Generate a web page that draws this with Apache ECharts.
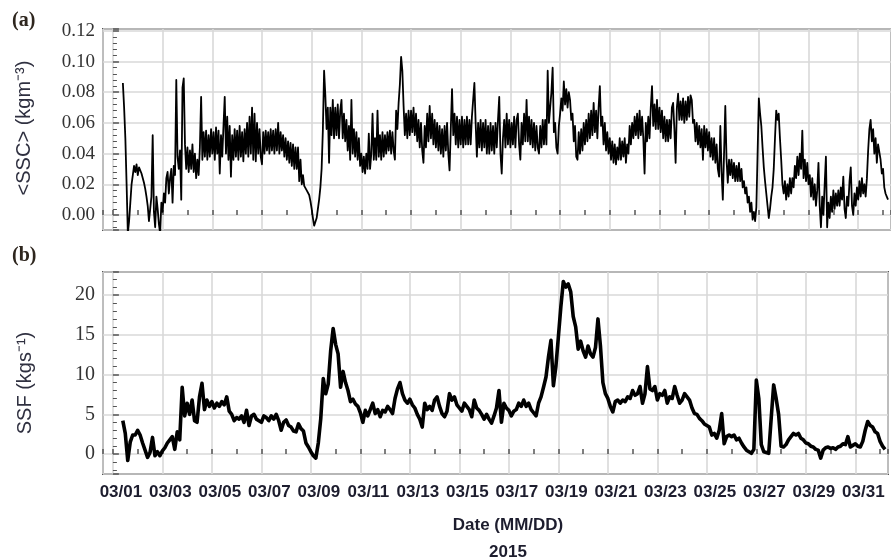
<!DOCTYPE html>
<html>
<head>
<meta charset="utf-8">
<script src="https://cdn.jsdelivr.net/npm/echarts@6/dist/echarts.min.js"></script>
<style>
  html, body { margin: 0; padding: 0; background: #fff; }
  #chart { width: 891px; height: 560px; }
</style>
</head>
<body>
<div id="chart"></div>
<script>
// Times are days after 03/01 00:00. Both records start at the same instant.
const sscStart = 0.4;
const sscStep = 0.05;
const ssfStart = 0.4;
const ssfStep = 0.1;

// Date tick labels, one every second day (x = 0, 2, 4, ...)
const dateLabels = ['03/01', '03/03', '03/05', '03/07', '03/09', '03/11', '03/13', '03/15',
                    '03/17', '03/19', '03/21', '03/23', '03/25', '03/27', '03/29', '03/31'];

// Value-axis tick labels
const sscTicks = [0.00, 0.02, 0.04, 0.06, 0.08, 0.10, 0.12];
const ssfTicks = [0, 5, 10, 15, 20];

// (a) depth-averaged suspended sediment concentration <SSC>, kg m^-3 (one row per day)
const ssc = [
  0.086, 0.070, 0.050, 0.020, -0.012, -0.004, 0.008, 0.020, 0.026, 0.032, 0.028, 0.033, 0.026, 0.031, 0.032, 0.027, 0.026, 0.021, 0.017, 0.012,
  0.006, -0.004, 0.004, 0.012, 0.052, 0.002, -0.008, 0.012, 0.004, -0.006, -0.012, 0.008, 0.002, 0.014, 0.008, 0.024, 0.028, 0.014, 0.024, 0.030,
  0.008, 0.032, 0.026, 0.088, 0.038, 0.030, 0.042, 0.010, 0.083, 0.089, 0.046, 0.030, 0.044, 0.028, 0.042, 0.030, 0.046, 0.028, 0.040, 0.024,
  0.036, 0.026, 0.044, 0.077, 0.036, 0.054, 0.038, 0.055, 0.036, 0.052, 0.038, 0.056, 0.040, 0.054, 0.036, 0.057, 0.040, 0.055, 0.027, 0.052,
  0.038, 0.058, 0.077, 0.040, 0.064, 0.036, 0.058, 0.025, 0.052, 0.036, 0.056, 0.038, 0.055, 0.036, 0.058, 0.038, 0.054, 0.035, 0.056, 0.040,
  0.060, 0.038, 0.064, 0.040, 0.070, 0.036, 0.066, 0.035, 0.060, 0.040, 0.056, 0.038, 0.033, 0.054, 0.040, 0.055, 0.042, 0.054, 0.040, 0.056,
  0.042, 0.055, 0.040, 0.056, 0.042, 0.060, 0.040, 0.054, 0.042, 0.052, 0.038, 0.050, 0.036, 0.048, 0.034, 0.047, 0.032, 0.046, 0.030, 0.044,
  0.030, 0.044, 0.022, 0.036, 0.020, 0.026, 0.019, 0.018, 0.016, 0.015, 0.013, 0.009, 0.004, -0.002, -0.007, -0.006, -0.002, 0.004, 0.010, 0.018,
  0.030, 0.055, 0.094, 0.078, 0.056, 0.070, 0.034, 0.070, 0.052, 0.075, 0.050, 0.070, 0.052, 0.072, 0.050, 0.068, 0.075, 0.050, 0.066, 0.048,
  0.062, 0.042, 0.058, 0.036, 0.075, 0.040, 0.056, 0.038, 0.054, 0.036, 0.050, 0.032, 0.040, 0.028, 0.038, 0.027, 0.040, 0.030, 0.053, 0.030,
  0.040, 0.066, 0.036, 0.050, 0.036, 0.068, 0.038, 0.052, 0.036, 0.054, 0.038, 0.052, 0.040, 0.054, 0.042, 0.055, 0.040, 0.054, 0.042, 0.036,
  0.068, 0.056, 0.073, 0.085, 0.103, 0.094, 0.071, 0.052, 0.066, 0.050, 0.068, 0.052, 0.068, 0.054, 0.070, 0.052, 0.066, 0.048, 0.062, 0.044,
  0.060, 0.042, 0.034, 0.058, 0.044, 0.066, 0.048, 0.071, 0.050, 0.066, 0.046, 0.062, 0.044, 0.060, 0.042, 0.058, 0.040, 0.056, 0.038, 0.058,
  0.042, 0.060, 0.040, 0.029, 0.056, 0.082, 0.052, 0.066, 0.046, 0.064, 0.044, 0.062, 0.046, 0.064, 0.044, 0.062, 0.046, 0.064, 0.046, 0.062,
  0.046, 0.064, 0.075, 0.086, 0.060, 0.038, 0.060, 0.044, 0.062, 0.042, 0.060, 0.044, 0.062, 0.040, 0.058, 0.040, 0.060, 0.042, 0.058, 0.040,
  0.060, 0.044, 0.062, 0.077, 0.040, 0.027, 0.050, 0.062, 0.044, 0.066, 0.046, 0.062, 0.044, 0.060, 0.046, 0.064, 0.044, 0.062, 0.066, 0.046,
  0.036, 0.060, 0.046, 0.066, 0.048, 0.075, 0.048, 0.064, 0.046, 0.062, 0.044, 0.060, 0.042, 0.058, 0.044, 0.040, 0.058, 0.044, 0.062, 0.046,
  0.062, 0.046, 0.094, 0.060, 0.070, 0.080, 0.096, 0.054, 0.060, 0.044, 0.040, 0.058, 0.066, 0.076, 0.068, 0.087, 0.072, 0.082, 0.070, 0.080,
  0.075, 0.062, 0.066, 0.048, 0.058, 0.038, 0.036, 0.054, 0.040, 0.056, 0.042, 0.060, 0.046, 0.062, 0.048, 0.066, 0.050, 0.068, 0.052, 0.073,
  0.054, 0.068, 0.050, 0.070, 0.084, 0.058, 0.064, 0.046, 0.060, 0.042, 0.054, 0.040, 0.050, 0.036, 0.048, 0.034, 0.046, 0.033, 0.044, 0.036,
  0.050, 0.036, 0.048, 0.038, 0.050, 0.034, 0.046, 0.040, 0.058, 0.046, 0.060, 0.050, 0.064, 0.052, 0.066, 0.050, 0.068, 0.052, 0.064, 0.050,
  0.027, 0.060, 0.048, 0.064, 0.050, 0.070, 0.084, 0.058, 0.072, 0.056, 0.075, 0.056, 0.070, 0.054, 0.068, 0.050, 0.064, 0.048, 0.062, 0.048,
  0.062, 0.050, 0.070, 0.073, 0.056, 0.034, 0.070, 0.079, 0.062, 0.074, 0.062, 0.076, 0.060, 0.074, 0.062, 0.077, 0.064, 0.078, 0.075, 0.060,
  0.062, 0.048, 0.060, 0.046, 0.058, 0.044, 0.056, 0.036, 0.058, 0.044, 0.056, 0.042, 0.054, 0.038, 0.050, 0.036, 0.050, 0.034, 0.046, 0.030,
  0.025, 0.058, 0.028, 0.010, 0.040, 0.071, 0.036, 0.021, 0.036, 0.026, 0.036, 0.024, 0.034, 0.022, 0.032, 0.022, 0.034, 0.022, 0.030, 0.018,
  0.022, 0.014, 0.018, 0.008, 0.012, 0.002, 0.008, -0.003, 0.002, -0.004, 0.005, 0.040, 0.076, 0.066, 0.058, 0.044, 0.031, 0.022, 0.014, 0.006,
  -0.002, 0.004, 0.012, 0.018, 0.030, 0.050, 0.068, 0.062, 0.066, 0.050, 0.036, 0.020, 0.014, 0.022, 0.010, 0.020, 0.012, 0.024, 0.014, 0.024,
  0.018, 0.032, 0.024, 0.038, 0.026, 0.040, 0.030, 0.055, 0.024, 0.036, 0.022, 0.034, 0.020, 0.026, 0.012, 0.024, 0.010, 0.020, 0.006, 0.016,
  0.034, 0.006, -0.008, 0.012, 0.000, 0.020, 0.038, -0.008, 0.008, -0.002, 0.012, 0.002, 0.016, 0.004, 0.014, 0.006, 0.016, 0.006, 0.018, 0.010,
  0.025, 0.004, -0.002, 0.012, 0.006, 0.022, 0.031, 0.006, 0.000, 0.014, 0.006, 0.018, 0.010, 0.022, 0.012, 0.024, 0.014, 0.020, 0.012, 0.024,
  0.042, 0.056, 0.062, 0.048, 0.056, 0.040, 0.050, 0.034, 0.046, 0.047, 0.036, 0.027, 0.030, 0.018, 0.014, 0.012, 0.010
];

// (b) suspended sediment flux SSF, kg s^-1 (one row per day)
const ssf = [
  4.2, 2.6, -0.8, 1.5, 2.4, 2.4, 3.0, 2.4, 1.4, 0.5,
  -0.4, 0.2, 2.1, -0.2, 0.3, -0.2, 0.4, 0.8, 1.4, 1.8,
  2.2, 0.6, 2.8, 1.8, 8.4, 4.8, 6.4, 5.0, 6.8, 4.2,
  4.0, 7.2, 8.9, 5.6, 6.8, 6.0, 6.6, 5.8, 6.4, 6.0,
  6.6, 6.2, 7.2, 5.4, 5.0, 4.2, 4.6, 4.4, 4.8, 4.0,
  5.5, 3.6, 4.8, 5.0, 4.4, 4.2, 4.0, 4.8, 4.6, 4.2,
  4.8, 4.4, 5.0, 4.2, 3.0, 4.0, 4.3, 3.6, 3.4, 2.9,
  2.8, 3.8, 3.2, 2.9, 1.4, 0.9, 0.3, -0.2, -0.5, 1.4,
  4.5, 9.5, 7.6, 8.8, 13.0, 15.8, 13.8, 12.6, 8.4, 10.4,
  9.0, 8.0, 6.6, 6.9, 6.3, 6.0, 5.2, 4.0, 5.5, 4.8,
  5.6, 6.4, 5.1, 5.6, 4.7, 5.5, 5.3, 6.0, 5.6, 5.1,
  7.0, 8.2, 9.0, 7.6, 6.8, 6.4, 6.9, 6.2, 5.8, 5.0,
  4.4, 3.4, 6.4, 5.6, 6.0, 5.5, 6.8, 7.2, 6.0, 5.1,
  4.7, 5.4, 7.6, 6.8, 7.2, 6.2, 5.8, 5.4, 6.4, 6.0,
  5.6, 4.7, 6.8, 5.8, 5.5, 5.0, 4.4, 5.0, 4.4, 3.9,
  4.8, 5.8, 8.0, 4.0, 6.4, 5.8, 5.5, 4.8, 5.4, 5.6,
  6.4, 6.0, 6.8, 6.0, 6.4, 5.6, 5.2, 4.8, 6.4, 7.2,
  8.4, 9.7, 12.2, 14.3, 8.6, 11.0, 14.7, 18.5, 21.7, 21.0,
  21.4, 20.4, 17.3, 16.0, 13.2, 14.2, 13.0, 12.2, 13.6, 12.6,
  12.2, 13.4, 17.0, 13.6, 9.0, 7.6, 7.0, 6.0, 5.3, 6.6,
  6.8, 6.4, 6.8, 6.6, 7.2, 7.0, 8.0, 7.4, 7.6, 8.5,
  6.4, 7.6, 11.0, 8.2, 8.0, 8.5, 6.8, 7.6, 7.4, 8.0,
  6.4, 7.2, 7.0, 8.5, 7.4, 6.4, 6.8, 7.6, 7.2, 6.8,
  5.8, 5.1, 5.0, 4.5, 4.2, 3.8, 3.6, 3.4, 2.4, 2.6,
  2.0, 3.0, 5.1, 1.3, 2.2, 2.4, 2.2, 2.4, 1.8, 2.0,
  1.4, 0.9, 0.5, 0.3, 0.1, 0.6, 9.3, 7.0, 1.2, 0.3,
  0.2, 0.1, 4.5, 8.7, 7.0, 5.0, 1.0, 0.9, 1.2, 1.8,
  2.2, 2.6, 2.4, 2.6, 2.0, 1.8, 1.4, 1.3, 1.0, 0.9,
  0.6, 0.5, -0.5, 0.5, 0.8, 0.9, 0.7, 0.8, 0.6, 0.9,
  1.0, 1.3, 1.2, 2.2, 0.9, 1.1, 1.3, 1.0, 0.9, 1.6,
  3.0, 4.1, 3.6, 3.4, 2.8, 2.6, 1.6, 1.0, 0.6
];

// Pair each sample with its time
const toPairs = (vals, start, step) => vals.map((v, i) => [+(start + i * step).toFixed(3), v]);

const AXIS = '#555';
const GRIDLINE = '#d9d9d9';
const LABEL_SERIF = 'Liberation Serif, Times New Roman, serif';
const LABEL_SANS = 'Liberation Sans, Arial, sans-serif';

function isStep(v, step) {
  const k = Math.round(v / step);
  return Math.abs(v - k * step) < step * 1e-4;
}

function xAxisFor(gridIndex, withLabels) {
  return {
    type: 'value', gridIndex,
    min: -0.4, max: 31.32,
    minInterval: 2, maxInterval: 2, splitNumber: 16,
    axisLine: { show: false },
    axisTick: { show: true, inside: true, length: 5, lineStyle: { color: AXIS, width: 1.5 } },
    minorTick: { show: true, splitNumber: 2, length: 5, lineStyle: { color: AXIS, width: 1.5 } },
    splitLine: { show: true, lineStyle: { color: GRIDLINE, width: 1.6 } },
    axisLabel: withLabels ? {
      show: true,
      margin: 10,
      padding: [0, 0, 0, 16],
      fontFamily: LABEL_SANS, fontWeight: 'bold', fontSize: 17, color: '#1d1d2e',
      formatter: v => (isStep(v, 2) && v >= 0 && v <= 30.01) ? dateLabels[Math.round(v / 2)] : ''
    } : { show: false }
  };
}

const option = {
  backgroundColor: '#fff',
  animation: false,
  grid: [
    { left: 103, top: 29, width: 793, height: 201, show: true, borderColor: AXIS, borderWidth: 2, backgroundColor: '#fff' },
    { left: 103, top: 272, width: 793, height: 202, show: true, borderColor: AXIS, borderWidth: 2, backgroundColor: '#fff' }
  ],
  xAxis: [xAxisFor(0, false), xAxisFor(1, true)],
  yAxis: [
    {
      type: 'value', gridIndex: 0,
      min: -0.0098, max: 0.1212,
      minInterval: 0.02, maxInterval: 0.02, splitNumber: 6,
      axisLine: { show: false },
      axisTick: { show: true, inside: true, length: 6, lineStyle: { color: AXIS, width: 1.5 } },
      minorTick: { show: true, splitNumber: 5, length: 4, lineStyle: { color: AXIS, width: 1 } },
      splitLine: { show: true, lineStyle: { color: GRIDLINE, width: 1.6 } },
      axisLabel: {
        margin: 8, fontFamily: LABEL_SERIF, fontSize: 19, color: '#333',
        formatter: v => {
          const t = sscTicks.find(s => Math.abs(s - v) < 1e-6);
          return t === undefined ? '' : t.toFixed(2);
        }
      }
    },
    {
      type: 'value', gridIndex: 1,
      min: -2.5, max: 22.9,
      minInterval: 5, maxInterval: 5, splitNumber: 5,
      axisLine: { show: false },
      axisTick: { show: true, inside: true, length: 6, lineStyle: { color: AXIS, width: 1.5 } },
      minorTick: { show: true, splitNumber: 5, length: 4, lineStyle: { color: AXIS, width: 1 } },
      splitLine: { show: true, lineStyle: { color: GRIDLINE, width: 1.6 } },
      axisLabel: {
        margin: 8, fontFamily: LABEL_SERIF, fontSize: 20, color: '#333',
        formatter: v => {
          const t = ssfTicks.find(s => Math.abs(s - v) < 1e-6);
          return t === undefined ? '' : String(t);
        }
      }
    }
  ],
  series: [
    {
      name: '<SSC>', type: 'line', xAxisIndex: 0, yAxisIndex: 0,
      data: toPairs(ssc, sscStart, sscStep), showSymbol: false, clip: true,
      lineStyle: { color: '#000', width: 1.8, join: 'round' }
    },
    {
      name: 'SSF', type: 'line', xAxisIndex: 1, yAxisIndex: 1,
      data: toPairs(ssf, ssfStart, ssfStep), showSymbol: false, clip: true,
      lineStyle: { color: '#000', width: 3.6, join: 'round' }
    }
  ],
  graphic: [
    { type: 'text', left: 12, top: 11, style: { text: '(a)', font: 'bold 20px ' + LABEL_SERIF, fill: '#2e261e' } },
    { type: 'text', left: 12, top: 246, style: { text: '(b)', font: 'bold 20px ' + LABEL_SERIF, fill: '#2e261e' } },
    { type: 'text', x: 24, y: 128, rotation: Math.PI / 2,
      style: { text: '<SSC> (kgm\u207B\u00B3)', font: '20px ' + LABEL_SANS, fill: '#2f3040',
               textAlign: 'center', textVerticalAlign: 'middle', align: 'center', verticalAlign: 'middle' } },
    { type: 'text', x: 25, y: 383, rotation: Math.PI / 2,
      style: { text: 'SSF (kgs\u207B\u00B9)', font: '20px ' + LABEL_SANS, fill: '#2f3040',
               textAlign: 'center', textVerticalAlign: 'middle', align: 'center', verticalAlign: 'middle' } },
    { type: 'text', x: 508, y: 525,
      style: { text: 'Date (MM/DD)', font: 'bold 17px ' + LABEL_SANS, fill: '#1d1d2e',
               textAlign: 'center', textVerticalAlign: 'middle', align: 'center', verticalAlign: 'middle' } },
    { type: 'text', x: 508, y: 552,
      style: { text: '2015', font: 'bold 17px ' + LABEL_SANS, fill: '#1d1d2e',
               textAlign: 'center', textVerticalAlign: 'middle', align: 'center', verticalAlign: 'middle' } }
  ]
};

const chart = echarts.init(document.getElementById('chart'), null, { renderer: 'canvas' });
chart.setOption(option);
</script>
</body>
</html>
